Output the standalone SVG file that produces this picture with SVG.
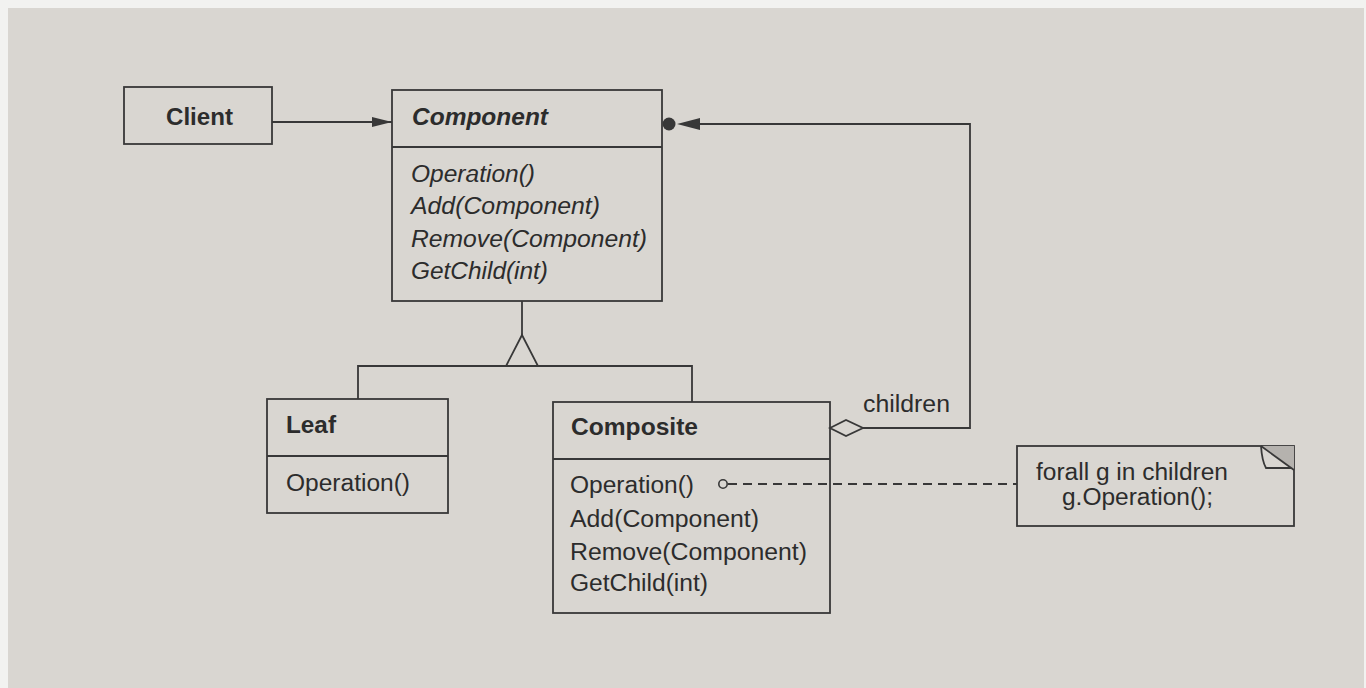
<svg xmlns="http://www.w3.org/2000/svg" width="1366" height="688" viewBox="0 0 1366 688">
  <style>
    .box { fill: none; stroke: #383838; stroke-width: 1.8; }
    .ln { fill: none; stroke: #383838; stroke-width: 1.8; }
    .t { font-family: "Liberation Sans", Arial, sans-serif; font-size: 23px; fill: #2c2c2c; }
    .b { font-weight: bold; }
    .i { font-style: italic; }
    .dash { stroke-dasharray: 9 6; }
  </style>
  <defs>
    <marker id="arrow" viewBox="0 0 20 10" refX="20" refY="5" markerWidth="20" markerHeight="10" markerUnits="userSpaceOnUse" orient="auto">
      <path d="M0,0 L20,5 L0,10 Z" fill="#383838"/>
    </marker>
  </defs>

  <!-- paper -->
  <rect x="0" y="0" width="1366" height="688" fill="#f2f2f0"/>
  <rect x="8" y="8" width="1356" height="680" fill="#d9d6d1"/>

  <!-- connectors -->
  <g id="connectors">
    <!-- Client references Component -->
    <line class="ln" x1="272" y1="122" x2="392" y2="122" marker-end="url(#arrow)"/>
    <!-- inheritance -->
    <line class="ln" x1="522" y1="301" x2="522" y2="335"/>
    <polygon class="ln" points="522,335 506,366 538,366" fill="#d9d6d1"/>
    <polyline class="ln" points="358,399 358,366 692,366 692,402"/>
    <!-- children aggregation -->
    <polygon points="830,428 846,420 863,428 846,436" fill="#d9d6d1" stroke="#383838" stroke-width="1.8"/>
    <polyline class="ln" points="863,428 970,428 970,124 699,124"/>
    <path d="M700,118 L677,124 L700,130 Z" fill="#383838"/>
    <circle cx="669" cy="124" r="6.5" fill="#383838"/>
    <text class="t" x="863" y="412" textLength="87" lengthAdjust="spacingAndGlyphs">children</text>
    <!-- implementation note link -->
    <circle cx="723" cy="484" r="4.2" fill="none" stroke="#383838" stroke-width="1.6"/>
    <line class="ln dash" x1="728" y1="484" x2="1017" y2="484"/>
  </g>

  <g id="client">
    <rect class="box" x="124" y="87" width="148" height="57"/>
    <text class="t b" x="166" y="125" textLength="67" lengthAdjust="spacingAndGlyphs">Client</text>
  </g>

  <g id="component">
    <rect class="box" x="392" y="90" width="270" height="211"/>
    <line class="ln" x1="392" y1="147" x2="662" y2="147"/>
    <text class="t b i" x="412" y="125" textLength="136" lengthAdjust="spacingAndGlyphs">Component</text>
    <text class="t i" x="411" y="182" textLength="124" lengthAdjust="spacingAndGlyphs">Operation()</text>
    <text class="t i" x="411" y="214" textLength="189" lengthAdjust="spacingAndGlyphs">Add(Component)</text>
    <text class="t i" x="411" y="247" textLength="236" lengthAdjust="spacingAndGlyphs">Remove(Component)</text>
    <text class="t i" x="411" y="279" textLength="137" lengthAdjust="spacingAndGlyphs">GetChild(int)</text>
  </g>

  <g id="leaf">
    <rect class="box" x="267" y="399" width="181" height="114"/>
    <line class="ln" x1="267" y1="456" x2="448" y2="456"/>
    <text class="t b" x="286" y="433" textLength="50" lengthAdjust="spacingAndGlyphs">Leaf</text>
    <text class="t" x="286" y="491" textLength="124" lengthAdjust="spacingAndGlyphs">Operation()</text>
  </g>

  <g id="composite">
    <rect class="box" x="553" y="402" width="277" height="211"/>
    <line class="ln" x1="553" y1="459" x2="830" y2="459"/>
    <text class="t b" x="571" y="435" textLength="127" lengthAdjust="spacingAndGlyphs">Composite</text>
    <text class="t" x="570" y="493" textLength="124" lengthAdjust="spacingAndGlyphs">Operation()</text>
    <text class="t" x="570" y="527" textLength="189" lengthAdjust="spacingAndGlyphs">Add(Component)</text>
    <text class="t" x="570" y="560" textLength="237" lengthAdjust="spacingAndGlyphs">Remove(Component)</text>
    <text class="t" x="570" y="591" textLength="138" lengthAdjust="spacingAndGlyphs">GetChild(int)</text>
  </g>

  <g id="note">
    <rect class="box" x="1017" y="446" width="277" height="80"/>
    <polygon points="1261,446 1294,446 1294,470" fill="#b5b2ae"/>
    <path class="ln" d="M1261,446 L1294,470"/>
    <path class="ln" d="M1261,446 Q1262,461 1266,468 L1291,468"/>
    <text class="t" x="1036" y="480" textLength="192" lengthAdjust="spacingAndGlyphs">forall g in children</text>
    <text class="t" x="1062" y="505" textLength="151" lengthAdjust="spacingAndGlyphs">g.Operation();</text>
  </g>
</svg>
